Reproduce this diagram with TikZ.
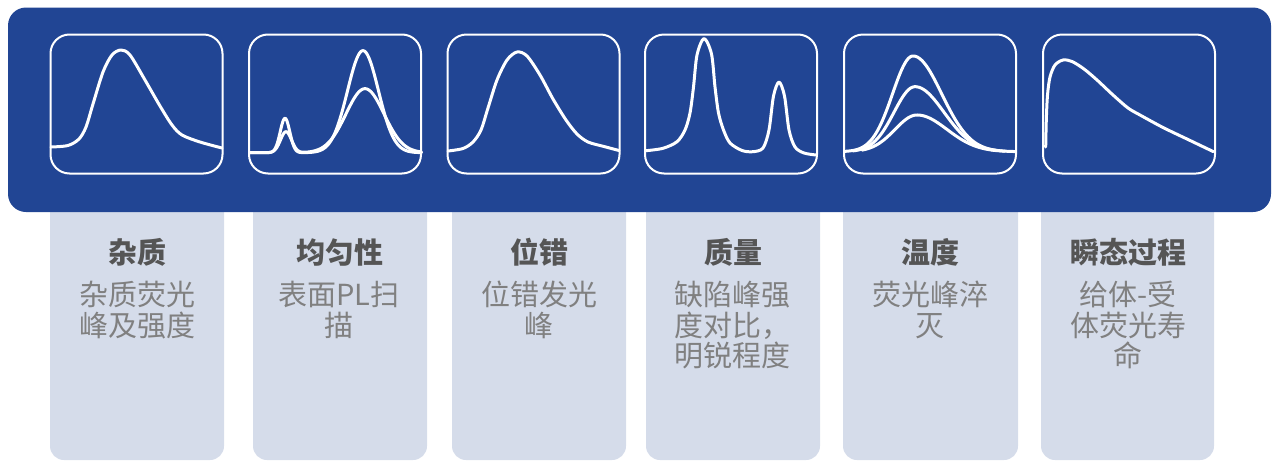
\documentclass[tikz,border=0pt]{standalone}
\usepackage{fontspec}
\newfontfamily\cjk{Noto Sans CJK SC}
\definecolor{bannerblue}{RGB}{33,69,148}
\definecolor{colfill}{RGB}{213,220,234}
\definecolor{titlegray}{RGB}{85,85,85}
\definecolor{bodygray}{RGB}{128,128,128}
\tikzset{
  banner/.style={fill=bannerblue, rounded corners=18pt},
  colbox/.style={fill=colfill, rounded corners=14pt},
  panel/.style={draw=white, line width=2pt, rounded corners=19pt},
  curve/.style={draw=white, line width=3pt, line join=round, line cap=round},
  ttl/.style={font=\cjk\bfseries\fontsize{29}{31}\selectfont, text=titlegray, anchor=base, inner sep=0pt},
  body/.style={font=\cjk\fontsize{29}{30.5}\selectfont, text=bodygray, align=center, anchor=north, inner sep=0pt},
  declare function={
    gs(\x,\m,\s)=exp(-min(9,0.5*((\x-\m)/\s)^2));
    ag(\x,\m,\l,\r)=exp(-min(9,0.5*((\x-\m)/((\x<\m)*\l+(\x>=\m)*\r))^2));
  }
}
\begin{document}
\begin{tikzpicture}[x=1pt,y=-1pt]
\useasboundingbox (0,0) rectangle (1279,461);
% columns
\foreach \xa/\xb in {50/224,253/427,452/626,646/820,843/1018,1041/1214}
  \fill[colbox] (\xa,190) rectangle (\xb,460);
% banner
\fill[banner] (8,7.5) rectangle (1271,212);
% panels
\foreach \xa in {50.5,249,447.5,645,844,1043}
  \draw[panel] (\xa,34.5) rectangle ++(172,139);
% curve 1
\draw[curve] plot[smooth] coordinates {(51,147) (68,145.5) (79,139) (86,127) (93,104) (103,72) (112,55) (121,50) (130,55) (145,80) (160,106) (172,125) (182,135) (200,142) (222,148)};
% curve 2 (two overlapping spectra)
\draw[curve] plot[domain=250:421.5, samples=220, variable=\t] (\t,{152.7-34.4*gs(\t,285,4.8)-102*gs(\t,363,15.5)});
\draw[curve] plot[domain=250:421.5, samples=220, variable=\t] (\t,{152.7-21*gs(\t,286,5.5)-64*gs(\t,365,19)});
% curve 3
\draw[curve] plot[smooth] coordinates {(448,151) (463,148.5) (473,142) (481,130) (488,108) (497,80) (507,60) (517,52) (527,56) (540,75) (553,99) (566,120) (577,134) (588,142) (604,146.5) (619,150.5)};
% curve 4
\draw[curve] plot[smooth] coordinates {(646,150.7) (663,148.3) (677,141.7) (685,130) (690,113) (693.5,87) (697,55) (704,38.5) (711.5,54) (715,87) (718.5,113) (723.5,130) (730,143) (742,150.5) (753,151.7) (763,148) (769,130) (773.5,96) (779,82) (784.5,96) (789,130) (795,147) (804,153) (816,155)};
% curve 5 (three temperatures)
\draw[curve] plot[domain=845:1015, samples=150, variable=\t] (\t,{151.7-95.7*ag(\t,913,20.4,28.6)});
\draw[curve] plot[domain=853:1005, samples=150, variable=\t] (\t,{151.7-65*ag(\t,915,21,29)});
\draw[curve] plot[domain=862:997, samples=150, variable=\t] (\t,{151.7-36.7*ag(\t,917,22,30)});
% curve 6
\draw[curve] plot[smooth] coordinates {(1045.7,147) (1046.3,120) (1047.5,95) (1050,77) (1055,65) (1063,60) (1072,61.5) (1084,69) (1097,80) (1113,95) (1128,108) (1140,115) (1163,127.5) (1188,139.5) (1213.5,151.7)};
% titles
\node[ttl] (t1) at (137,263) {杂质};
\node[ttl] (t2) at (340,263) {均匀性};
\node[ttl] (t3) at (539,263) {位错};
\node[ttl] (t4) at (733,263) {质量};
\node[ttl] (t5) at (930.5,263) {温度};
\node[ttl] (t6) at (1128,263) {瞬态过程};
% bodies
\node[body] (b1) at (137,281) {杂质荧光\\峰及强度};
\node[body] (b2) at (339,281) {表面PL扫\\描};
\node[body] (b3) at (539,281) {位错发光\\峰};
\node[body] (b4) at (732,281) {缺陷峰强\\度对比，\\明锐程度};
\node[body] (b5) at (930,281) {荧光峰淬\\灭};
\node[body] (b6) at (1128,281) {给体-受\\体荧光寿\\命};
\end{tikzpicture}
\end{document}
